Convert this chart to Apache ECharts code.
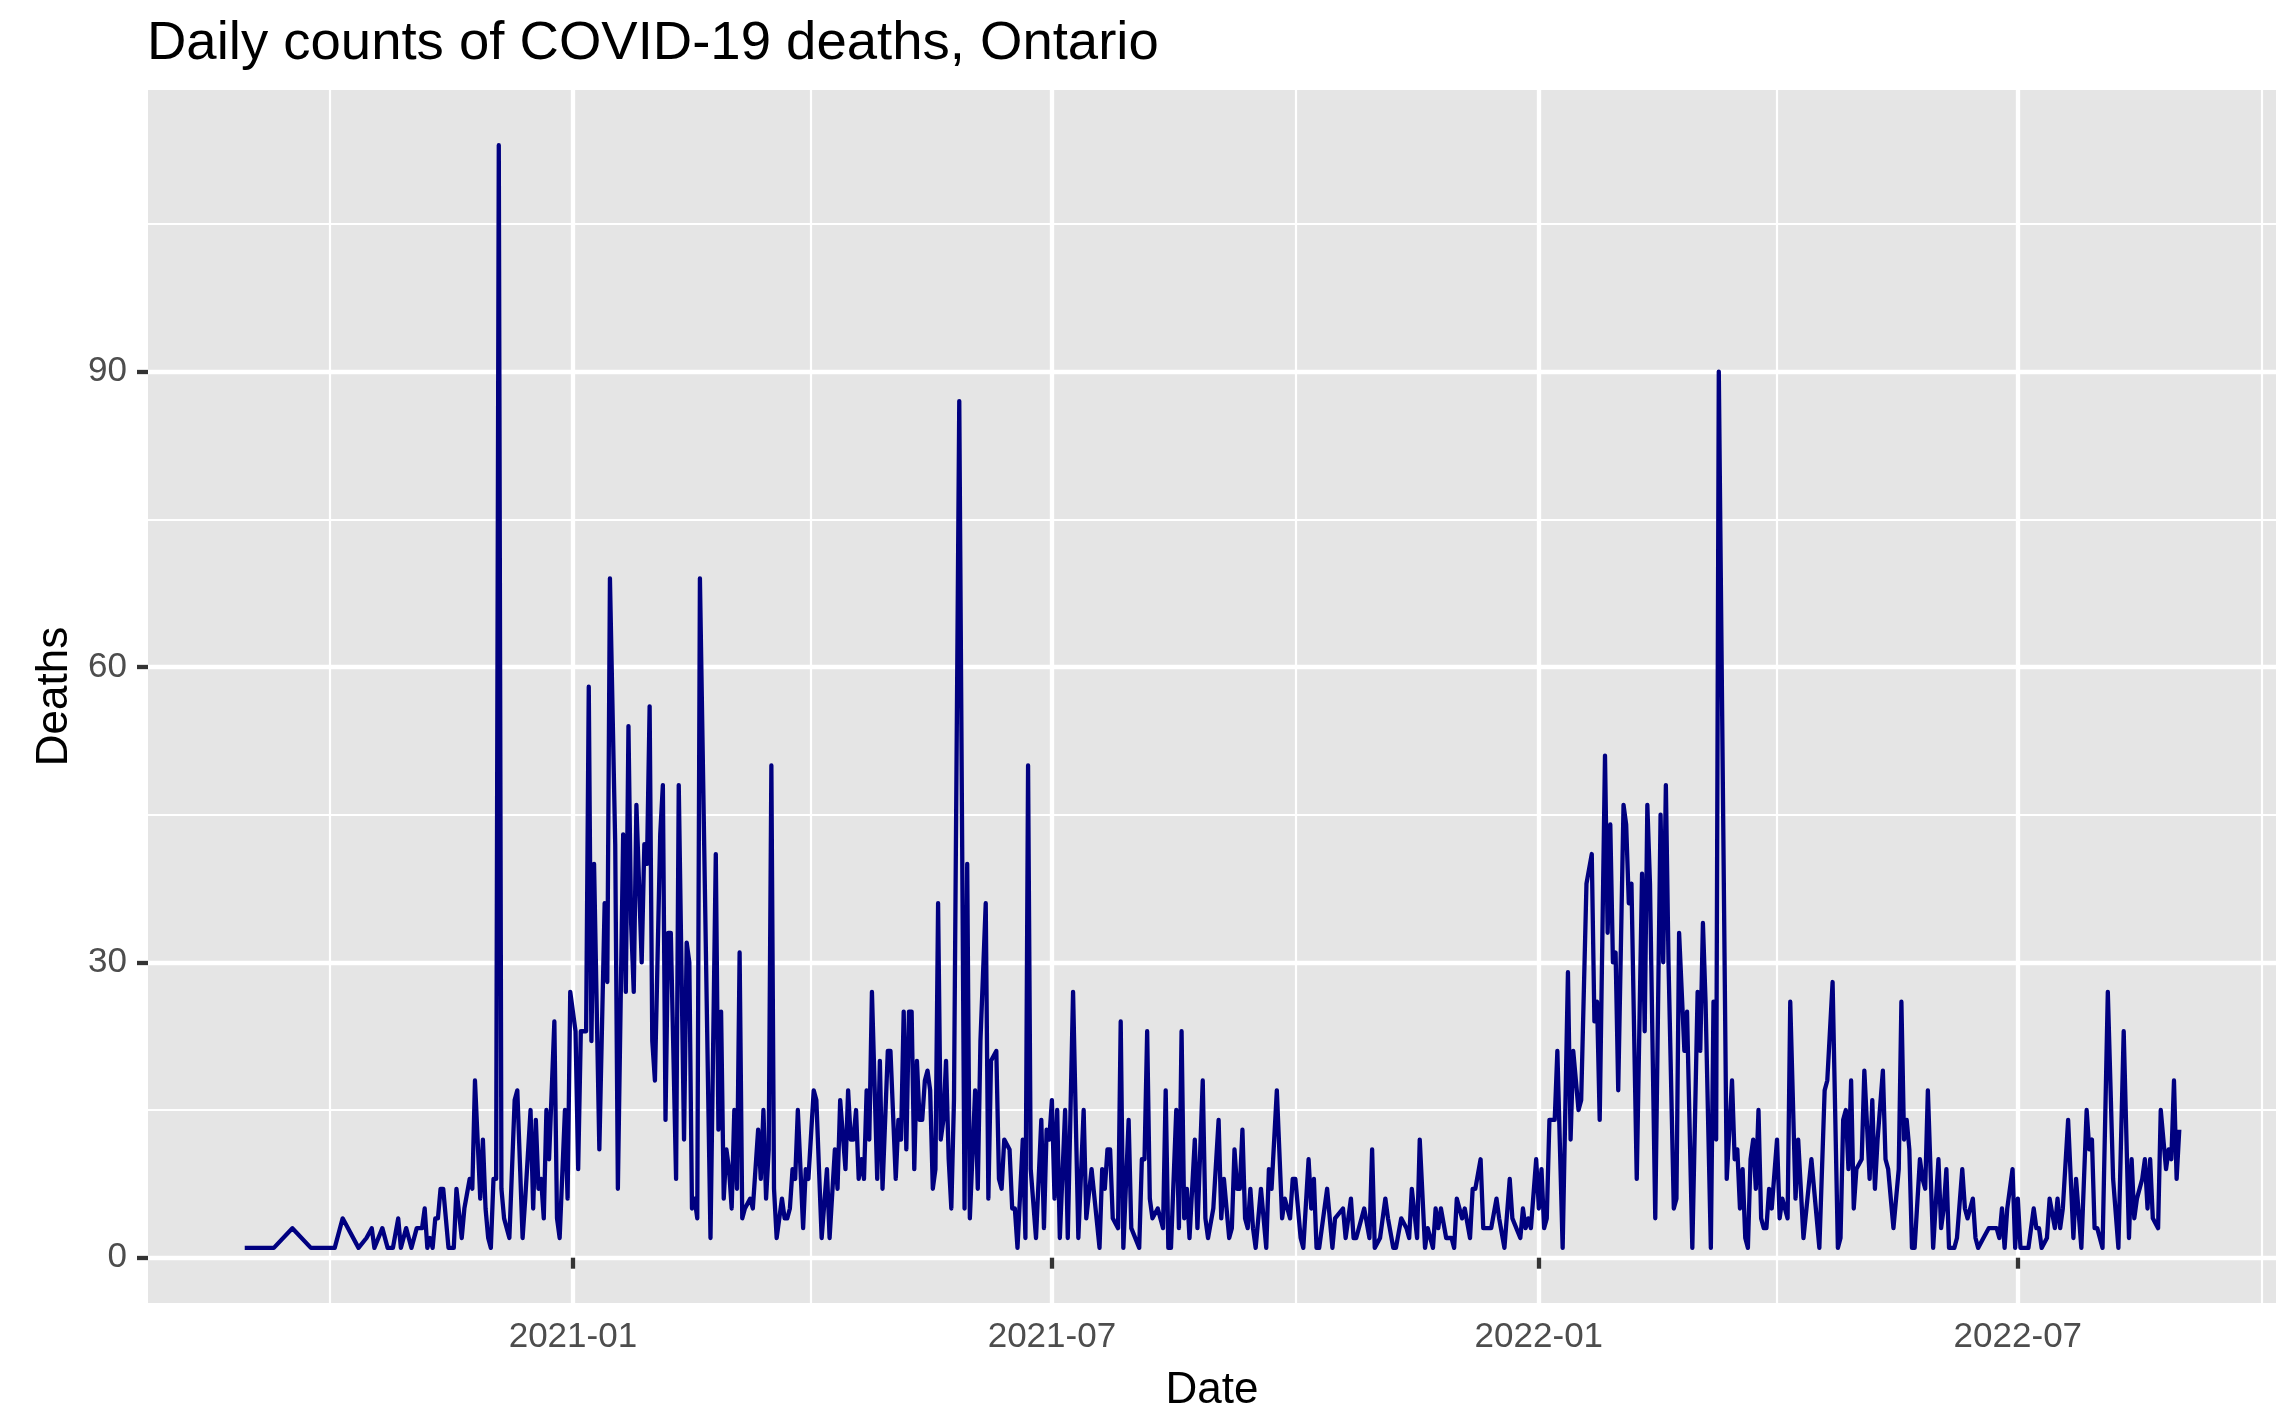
<!DOCTYPE html>
<html>
<head>
<meta charset="utf-8">
<script src="https://cdn.jsdelivr.net/npm/echarts@6/dist/echarts.min.js"></script>
<style>
html,body{margin:0;padding:0;background:#ffffff;}
#chart{width:2276px;height:1418px;}
</style>
</head>
<body>
<div id="chart"></div>
<script>
// ---- data: day offsets are counted from baseDate; values are daily deaths ----
const baseDate = '2021-01-01';

const days2020 = [-124,-113,-106,-99,-90,-87,-81,-78,-76,-75,
  -72,-70,-68,-66,-65,-63,-61,-59,-57,-56,
  -55,-54,-53,-52,-51,-50,-49,-47,-45,-44,
  -42,-41,-39,-38,-37,-35,-34,-33,-32,-31,
  -30,-29,-28,-27,-26,-24,-22,-21,-19,-18,
  -16,-15,-14,-13,-12,-11,-10,-9,-7,-6,
  -5,-3,-2,-1];
const deaths2020 = [1,1,3,1,1,4,1,2,3,1,
  3,1,1,4,1,3,1,3,3,5,
  1,2,1,4,4,7,7,1,1,7,
  2,5,8,7,18,6,12,5,2,1,
  8,8,113,7,4,2,16,17,2,6,
  15,5,14,7,8,4,15,10,24,4,
  2,15,6,27];

const days2021H1 = [0,1,2,3,5,6,7,8,10,12,
  13,14,16,17,19,20,21,22,23,24,
  26,27,28,29,30,31,33,34,35,36,
  37,39,40,42,43,44,45,46,47,48,
  52,54,55,56,57,58,59,60,61,62,
  63,64,65,67,68,70,71,72,73,74,
  75,76,77,79,80,81,82,83,84,85,
  87,88,89,91,92,94,96,97,99,100,
  101,103,104,105,106,107,108,109,110,111,
  112,113,115,116,117,119,120,122,123,124,
  125,126,127,128,129,130,131,132,133,134,
  135,136,137,138,139,140,141,142,143,144,
  146,148,149,150,152,153,154,156,157,158,
  160,161,162,163,165,166,167,168,170,171,
  172,173,175,177,178,179,180];
const deaths2021H1 = [25,23,9,23,23,58,22,40,11,36,
  28,69,42,7,43,27,54,34,27,46,
  30,42,40,56,22,18,43,48,14,33,
  33,8,48,12,32,30,5,6,4,69,
  2,41,13,25,6,11,9,5,15,7,
  31,4,5,6,5,13,8,15,6,11,
  50,7,2,6,4,4,5,9,8,15,
  3,9,8,17,16,2,9,2,11,7,
  16,9,17,12,12,15,8,10,8,17,
  12,27,8,20,7,21,21,8,14,12,
  25,11,25,25,9,20,14,14,18,19,
  17,7,9,36,12,14,20,10,5,16,
  87,5,40,4,17,7,22,36,6,20,
  21,8,7,12,11,5,5,1,12,2,
  50,9,2,14,3,13,12];

const days2021H2 = [181,182,183,184,186,187,189,191,193,194,
  196,199,200,201,202,203,204,206,207,208,
  210,211,214,215,216,217,218,219,221,223,
  224,225,226,228,229,230,231,232,233,235,
  236,238,239,240,242,244,245,246,248,249,
  250,251,252,253,254,255,256,257,258,260,
  262,263,264,266,268,269,271,272,273,275,
  276,278,279,280,281,282,285,287,288,291,
  292,294,295,296,299,301,302,303,305,307,
  308,310,311,313,315,316,317,319,320,322,
  323,325,326,327,328,330,332,333,334,336,
  337,339,340,341,343,344,346,347,349,350,
  352,354,355,358,359,360,361,362,364];
const deaths2021H2 = [16,6,15,2,15,2,27,2,15,4,
  9,1,9,7,11,11,4,3,24,1,
  14,3,1,10,10,23,6,4,5,3,
  17,1,1,15,3,23,4,7,2,12,
  3,18,4,2,5,14,4,8,2,3,
  11,7,7,13,4,3,7,3,1,7,
  1,9,7,17,4,6,4,8,8,2,
  1,10,5,8,1,1,7,1,4,5,
  2,6,2,2,5,2,11,1,2,6,
  4,1,1,4,3,2,7,2,12,1,
  3,1,5,3,5,2,2,1,6,4,
  5,2,7,7,10,3,3,3,6,4,
  1,8,4,2,5,3,4,3,10];

const days2022H1 = [365,366,367,368,369,371,372,374,376,377,
  378,380,381,383,385,386,387,388,390,391,
  392,393,394,395,397,398,399,400,402,404,
  405,406,407,409,411,412,413,414,416,417,
  418,420,421,423,425,426,427,428,430,431,
  432,433,436,438,439,440,441,442,443,444,
  445,446,447,448,449,450,451,452,453,455,
  456,457,459,460,462,463,465,468,471,473,
  474,476,478,479,480,481,482,483,484,485,
  487,488,490,491,492,493,495,496,497,499,
  501,502,503,504,505,506,507,509,510,511,
  512,514,516,517,518,519,520,522,523,525,
  526,527,529,530,531,533,535,537,538,539,
  540,541,542,544,545];
const deaths2022H1 = [5,9,3,4,14,14,21,1,29,12,
  21,15,16,38,41,24,26,14,51,33,
  44,30,31,17,46,44,36,38,8,39,
  23,46,38,4,45,30,48,30,5,6,
  33,21,25,1,27,21,34,26,1,26,
  12,90,8,18,10,11,5,9,2,1,
  10,12,7,15,4,3,3,7,5,12,
  4,6,4,26,6,12,2,10,1,17,
  18,28,1,2,14,15,9,18,5,9,
  10,19,8,16,7,12,19,10,9,3,
  9,26,12,14,11,1,1,10,8,7,
  17,1,10,3,5,9,1,1,2,9,
  5,4,6,2,1,2,3,3,3,2,
  5,1,5,9,1];

const days2022H2 = [546,547,550,552,553,554,555,557,558,560,
  561,562,563,565,567,568,570,572,573,574,
  575,576,578,580,582,584,586,588,589,590,
  591,593,594,595,596,597,599,600,602,603,
  604,605,606,607];
const deaths2022H2 = [6,1,1,5,3,3,1,2,6,3,
  6,3,5,14,2,8,1,15,11,12,
  3,3,1,27,8,1,23,2,10,4,
  6,8,10,5,10,4,3,15,9,11,
  10,18,8,13];

// axis breaks
const xMajorBreaks = ['2021-01-01','2021-07-01','2022-01-01','2022-07-01'];
const xMinorBreaks = ['2020-10-01','2021-04-01','2021-10-01','2022-04-01','2022-10-01'];
const yMajorBreaks = [0,30,60,90];
const yMinorBreaks = [15,45,75,105];

// ---- build ----
const DAY = 86400000;
const parseDate = s => Date.parse(s + 'T00:00:00Z');
const base = parseDate(baseDate);
const segments = [
  [days2020, deaths2020],
  [days2021H1, deaths2021H1],
  [days2021H2, deaths2021H2],
  [days2022H1, deaths2022H1],
  [days2022H2, deaths2022H2]
];
const seriesData = [];
segments.forEach(([ds, vs]) => {
  const n = Math.min(ds.length, vs.length);
  for (let i = 0; i < n; i++) seriesData.push([base + ds[i] * DAY, vs[i]]);
});
const times = seriesData.map(p => p[0]);
const vals = seriesData.map(p => p[1]);
const tMin = Math.min(...times), tMax = Math.max(...times);
const vMin = Math.min(...vals), vMax = Math.max(...vals);
const xPad = (tMax - tMin) * 0.05;
const yPad = (vMax - vMin) * 0.05;
const xLo = tMin - xPad, xHi = tMax + xPad;
const yLo = vMin - yPad, yHi = vMax + yPad;

const FONT = '"Liberation Sans", Arial, Helvetica, sans-serif';
const fmtMonth = v => {
  const d = new Date(v);
  return d.getUTCFullYear() + '-' + String(d.getUTCMonth() + 1).padStart(2, '0');
};

const chart = echarts.init(document.getElementById('chart'), null, {renderer: 'canvas'});
chart.setOption({
  animation: false,
  backgroundColor: '#ffffff',
  title: {
    text: 'Daily counts of COVID-19 deaths, Ontario',
    left: 147,
    top: 16,
    padding: 0,
    textStyle: {fontFamily: FONT, fontSize: 54.5, fontWeight: 'normal', color: '#000000'}
  },
  grid: {
    left: 148, top: 90, right: -4, bottom: 111,
    show: true, backgroundColor: '#E5E5E5', borderWidth: 0, containLabel: false
  },
  xAxis: [
    {
      type: 'value', min: xLo, max: xHi, position: 'bottom', scale: true,
      name: 'Date', nameLocation: 'middle', nameGap: 66,
      nameTextStyle: {fontFamily: FONT, fontSize: 44, color: '#000000'},
      axisLine: {show: false},
      axisTick: {show: true, length: 11, lineStyle: {color: '#333333', width: 4.3},
        customValues: xMajorBreaks.map(parseDate)},
      axisLabel: {show: true, margin: 17, fontFamily: FONT, fontSize: 35, color: '#4D4D4D',
        customValues: xMajorBreaks.map(parseDate), formatter: fmtMonth},
      splitLine: {show: true, lineStyle: {color: '#ffffff', width: 4.3}}
    },
    {
      type: 'value', min: xLo, max: xHi, position: 'bottom', scale: true,
      axisLine: {show: false},
      axisTick: {show: false, customValues: xMinorBreaks.map(parseDate)},
      axisLabel: {show: false, customValues: xMinorBreaks.map(parseDate), formatter: fmtMonth},
      splitLine: {show: true, lineStyle: {color: '#ffffff', width: 2.2}}
    }
  ],
  yAxis: [
    {
      type: 'value', min: yLo, max: yHi, position: 'left',
      name: 'Deaths', nameLocation: 'middle', nameGap: 71, nameRotate: 90,
      nameTextStyle: {fontFamily: FONT, fontSize: 44, color: '#000000'},
      axisLine: {show: false},
      axisTick: {show: true, length: 11, lineStyle: {color: '#333333', width: 4.3},
        customValues: yMajorBreaks},
      axisLabel: {show: true, margin: 21, fontFamily: FONT, fontSize: 35, color: '#4D4D4D',
        customValues: yMajorBreaks},
      splitLine: {show: true, lineStyle: {color: '#ffffff', width: 4.3}}
    },
    {
      type: 'value', min: yLo, max: yHi, position: 'left',
      axisLine: {show: false},
      axisTick: {show: false, customValues: yMinorBreaks},
      axisLabel: {show: false, customValues: yMinorBreaks},
      splitLine: {show: true, lineStyle: {color: '#ffffff', width: 2.2}}
    }
  ],
  series: [
    {
      type: 'line',
      xAxisIndex: 0, yAxisIndex: 0,
      data: seriesData,
      showSymbol: false, symbol: 'none',
      lineStyle: {color: '#000080', width: 4.3, join: 'round', cap: 'butt'},
      silent: true, z: 5
    }
  ]
});
</script>
</body>
</html>
